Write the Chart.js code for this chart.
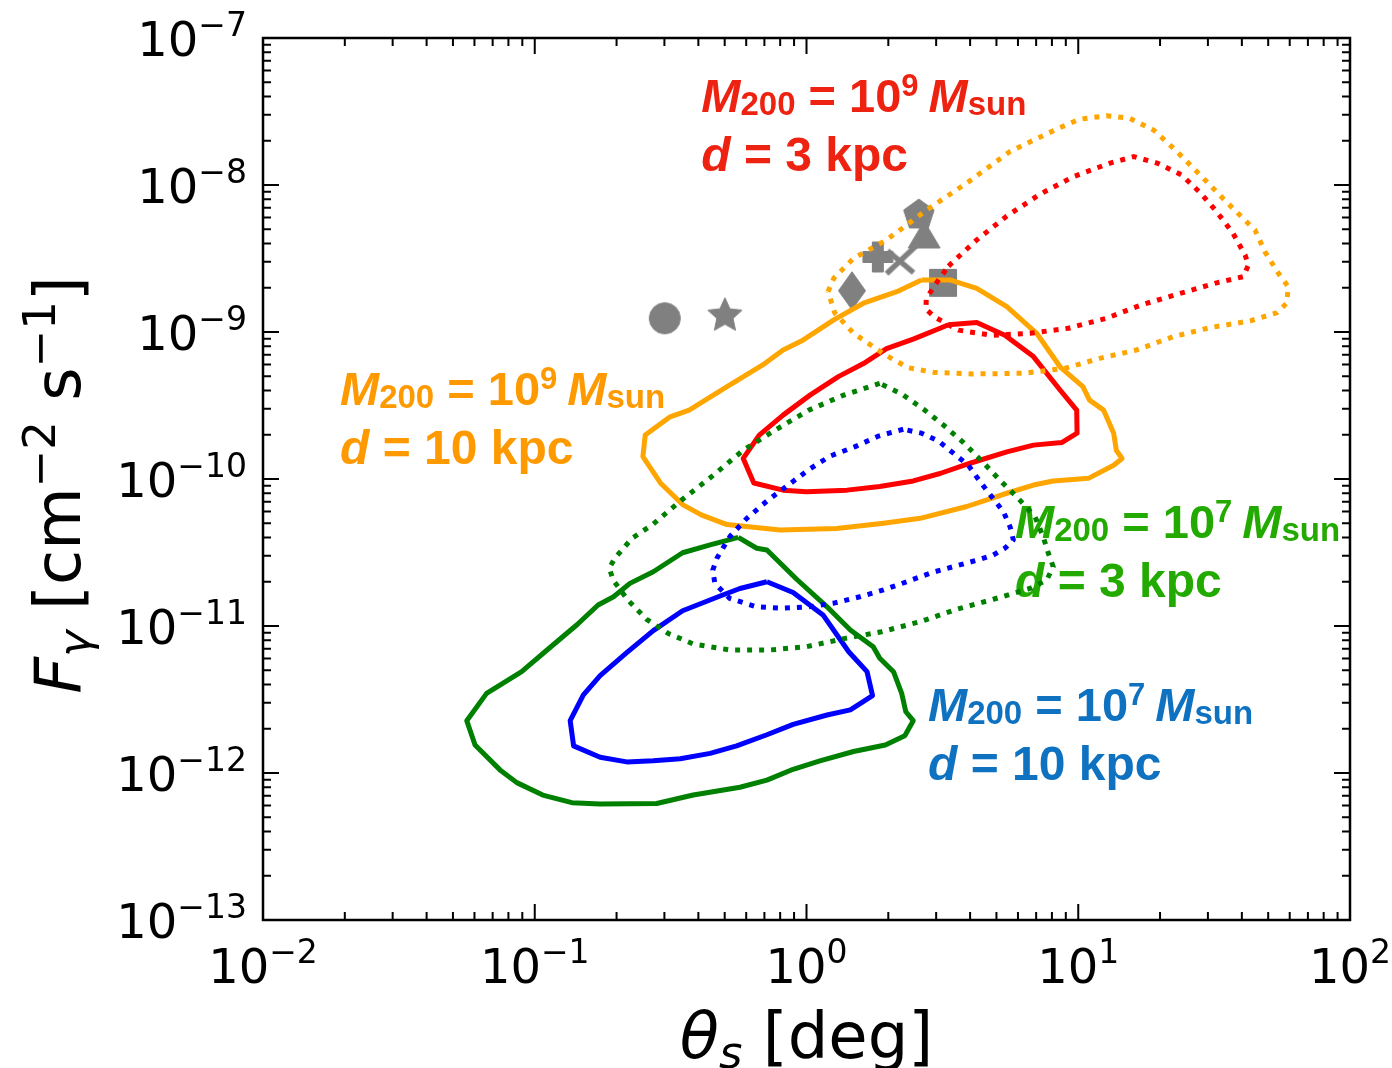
<!DOCTYPE html>
<html>
<head>
<meta charset="utf-8">
<script src="https://cdn.jsdelivr.net/npm/chart.js@4.4.0/dist/chart.umd.min.js"></script>
<style>
  html, body { margin: 0; padding: 0; background: #fff; }
  canvas { display: block; background: #fff; }
</style>
</head>
<body>
<canvas id="fluxChart" width="1392" height="1068"></canvas>
<script>
// contour outlines, [theta_s (deg), F_gamma (cm^-2 s^-1)]
const orangeSolid = [[2.65,2.26e-9],[3.37,2.26e-9],[4.23,1.98e-9],[5.46,1.49e-9],[7.03,9.8e-10],[8.57,5.8e-10],[10.4,4.25e-10],[11.0,3.44e-10],[12.4,2.94e-10],[13.5,2.05e-10],[13.8,1.57e-10],[14.5,1.38e-10],[13.5,1.24e-10],[10.9,1.01e-10],[8.09,9.7e-11],[6.84,9.1e-11],[5.46,8.0e-11],[3.89,6.5e-11],[2.62,5.4e-11],[1.92,5.0e-11],[1.29,4.6e-11],[0.80,4.5e-11],[0.51,4.9e-11],[0.41,5.7e-11],[0.35,6.7e-11],[0.29,9.4e-11],[0.25,1.42e-10],[0.255,1.99e-10],[0.315,2.65e-10],[0.37,2.94e-10],[0.51,4.25e-10],[0.69,5.97e-10],[0.82,7.55e-10],[0.97,8.8e-10],[1.26,1.21e-9],[1.62,1.57e-9],[2.15,1.88e-9],[2.65,2.26e-9]];
const redSolid = [[3.33,1.12e-9],[4.23,1.16e-9],[5.37,9.5e-10],[6.84,6.8e-10],[8.57,4.03e-10],[9.87,2.94e-10],[9.9,2.05e-10],[8.69,1.77e-10],[6.84,1.70e-10],[5.46,1.53e-10],[4.0,1.28e-10],[3.10,1.09e-10],[2.47,9.7e-11],[1.86,8.9e-11],[1.41,8.4e-11],[1.0,8.2e-11],[0.82,8.4e-11],[0.64,9.4e-11],[0.585,1.38e-10],[0.67,1.99e-10],[0.82,2.72e-10],[1.03,3.72e-10],[1.31,4.97e-10],[1.62,6.1e-10],[1.97,7.7e-10],[2.47,8.95e-10],[3.10,1.06e-9],[3.33,1.12e-9]];
const orangeDotted = [[1.20,1.88e-9],[1.26,2.32e-9],[1.49,3.17e-9],[1.97,4.23e-9],[2.77,6.76e-9],[3.94,1.05e-8],[5.61,1.69e-8],[8.33,2.40e-8],[10.1,2.80e-8],[12.7,2.96e-8],[15.5,2.84e-8],[18.9,2.37e-8],[22.4,1.78e-8],[28.1,1.17e-8],[35.2,7.62e-9],[44.7,4.94e-9],[48.6,3.52e-9],[54.5,2.51e-9],[59.3,2.03e-9],[58.5,1.57e-9],[53.7,1.35e-9],[42.9,1.19e-9],[30.5,1.07e-9],[22.4,9.3e-10],[16.4,7.55e-10],[12.0,6.62e-10],[8.93,5.66e-10],[6.28,5.24e-10],[4.06,5.18e-10],[2.93,5.32e-10],[2.37,5.71e-10],[1.95,6.98e-10],[1.49,9.8e-10],[1.27,1.35e-9],[1.20,1.88e-9]];
const redDotted = [[3.33,2.81e-9],[4.23,4.23e-9],[5.46,6.15e-9],[7.23,8.65e-9],[9.59,1.14e-8],[13.1,1.41e-8],[16.0,1.56e-8],[19.5,1.41e-8],[24.0,1.17e-8],[28.1,8.87e-9],[32.3,6.58e-9],[37.0,4.74e-9],[41.1,3.34e-9],[42.3,2.86e-9],[40.5,2.38e-9],[32.3,2.16e-9],[23.7,1.83e-9],[17.1,1.53e-9],[12.7,1.24e-9],[9.19,1.06e-9],[6.64,9.8e-10],[4.80,9.5e-10],[3.62,1.03e-9],[2.97,1.26e-9],[2.75,1.43e-9],[2.76,1.69e-9],[2.97,2.09e-9],[3.33,2.81e-9]];
const greenDotted = [[1.86,4.48e-10],[1.37,3.72e-10],[1.02,2.94e-10],[0.766,2.15e-10],[0.585,1.57e-10],[0.454,1.06e-10],[0.35,7.28e-11],[0.273,4.94e-11],[0.228,3.95e-11],[0.197,2.89e-11],[0.188,2.47e-11],[0.195,2.03e-11],[0.221,1.49e-11],[0.258,1.11e-11],[0.31,8.9e-12],[0.383,7.55e-12],[0.522,6.87e-12],[0.735,6.87e-12],[1.0,7.23e-12],[1.39,8.24e-12],[1.89,9.14e-12],[2.62,1.07e-11],[3.57,1.30e-11],[4.87,1.52e-11],[6.64,1.80e-11],[7.66,2.06e-11],[8.09,2.53e-11],[7.76,3.13e-11],[7.43,4.05e-11],[6.93,5.55e-11],[5.93,7.59e-11],[5.15,9.8e-11],[4.41,1.33e-10],[3.78,1.77e-10],[3.19,2.33e-10],[2.69,2.99e-10],[2.24,3.79e-10],[1.86,4.48e-10]];
const blueDotted = [[2.27,2.18e-10],[1.84,1.96e-10],[1.51,1.66e-10],[1.22,1.43e-10],[1.02,1.16e-10],[0.857,9.1e-11],[0.715,7.08e-11],[0.603,5.4e-11],[0.522,4.05e-11],[0.468,2.89e-11],[0.452,2.40e-11],[0.46,1.95e-11],[0.522,1.54e-11],[0.656,1.35e-11],[0.811,1.32e-11],[1.02,1.35e-11],[1.26,1.43e-11],[1.57,1.58e-11],[1.92,1.76e-11],[2.34,2.00e-11],[2.89,2.31e-11],[3.57,2.57e-11],[4.35,2.84e-11],[4.87,3.04e-11],[5.37,3.38e-11],[5.77,3.85e-11],[5.61,4.74e-11],[5.30,6.0e-11],[4.80,7.59e-11],[4.35,9.6e-11],[3.94,1.24e-10],[3.47,1.50e-10],[3.05,1.82e-10],[2.65,2.05e-10],[2.27,2.18e-10]];
const greenSolid = [[0.561,4.01e-11],[0.442,3.56e-11],[0.35,3.15e-11],[0.273,2.34e-11],[0.224,1.95e-11],[0.195,1.58e-11],[0.171,1.39e-11],[0.143,1.02e-11],[0.111,6.87e-12],[0.0895,4.89e-12],[0.0665,3.48e-12],[0.0562,2.27e-12],[0.0603,1.55e-12],[0.0745,1.05e-12],[0.0859,8.6e-13],[0.107,7.08e-13],[0.137,6.28e-13],[0.174,6.15e-13],[0.281,6.2e-13],[0.383,7.08e-13],[0.569,8.0e-13],[0.715,8.95e-13],[0.893,1.06e-12],[1.12,1.21e-12],[1.49,1.40e-12],[1.95,1.55e-12],[2.30,1.79e-12],[2.47,2.27e-12],[2.32,2.61e-12],[2.24,3.48e-12],[2.09,4.89e-12],[1.86,6.03e-12],[1.76,7.23e-12],[1.45,9.4e-12],[1.19,1.35e-11],[0.92,2.08e-11],[0.715,3.29e-11],[0.656,3.38e-11],[0.561,4.01e-11]];
const blueSolid = [[0.715,2.0e-11],[0.893,1.69e-11],[1.15,1.19e-11],[1.43,6.68e-12],[1.67,4.89e-12],[1.75,3.36e-12],[1.45,2.69e-12],[1.19,2.48e-12],[0.893,2.14e-12],[0.715,1.82e-12],[0.553,1.53e-12],[0.442,1.36e-12],[0.343,1.25e-12],[0.273,1.21e-12],[0.218,1.19e-12],[0.174,1.28e-12],[0.139,1.53e-12],[0.135,2.27e-12],[0.151,3.40e-12],[0.174,4.59e-12],[0.218,6.58e-12],[0.273,9.3e-12],[0.35,1.27e-11],[0.481,1.60e-11],[0.569,1.80e-11],[0.715,2.0e-11]];

// grey markers (observed objects)
const markerTheta = [0.301, 0.501, 1.47, 1.83, 2.20, 2.71, 2.59, 3.18];
const markerFlux = [1.24e-9, 1.29e-9, 1.91e-9, 3.24e-9, 3.01e-9, 4.43e-9, 6.25e-9, 2.16e-9];
const markerShapes = ['circle', 'star', 'thinDiamond', 'plus', 'x', 'triangle', 'pentagon', 'square'];

// text labels for each contour pair
const labelMassExp = ['9', '9', '7', '7'];
const labelDist = ['3', '10', '3', '10'];
const labelTheta = [0.41, 0.0192, 5.85, 2.80];
const labelFlux = [3.14e-8, 3.19e-10, 3.97e-11, 2.26e-12];
const labelColors = ['#EE2211', '#FF9900', '#22AA00', '#0F72C0'];

// axis ticks (decade exponents)
const xTickExp = [-2, -1, 0, 1, 2];
const yTickExp = [-13, -12, -11, -10, -9, -8, -7];

const markerColor = '#808080';

function makeMarker(shape) {
  const s = 60;
  const c = document.createElement('canvas');
  c.width = s; c.height = s;
  const g = c.getContext('2d');
  g.fillStyle = markerColor;
  g.strokeStyle = markerColor;
  g.lineJoin = 'round';
  g.translate(s / 2, s / 2);
  g.beginPath();
  if (shape === 'circle') {
    g.arc(0, 0, 15.5, 0, Math.PI * 2);
  } else if (shape === 'star') {
    for (let i = 0; i < 10; i++) {
      const r = i % 2 === 0 ? 18 : 8.5;
      const a = -Math.PI / 2 + i * Math.PI / 5;
      g.lineTo(r * Math.cos(a), r * Math.sin(a));
    }
  } else if (shape === 'thinDiamond') {
    g.moveTo(0, -19); g.lineTo(13.5, 0); g.lineTo(0, 19); g.lineTo(-13.5, 0);
  } else if (shape === 'plus') {
    const h = 15, t = 5.5;
    g.moveTo(-t, -h); g.lineTo(t, -h); g.lineTo(t, -t); g.lineTo(h, -t); g.lineTo(h, t);
    g.lineTo(t, t); g.lineTo(t, h); g.lineTo(-t, h); g.lineTo(-t, t); g.lineTo(-h, t);
    g.lineTo(-h, -t); g.lineTo(-t, -t);
  } else if (shape === 'x') {
    g.lineWidth = 5.5;
    g.moveTo(-13, 12); g.lineTo(22, -21);
    g.moveTo(-12, -11); g.lineTo(14, 11);
    g.stroke();
    return c;
  } else if (shape === 'triangle') {
    g.moveTo(0, -16); g.lineTo(16, 11); g.lineTo(-16, 11);
  } else if (shape === 'pentagon') {
    for (let i = 0; i < 5; i++) {
      const a = -Math.PI / 2 + i * 2 * Math.PI / 5;
      g.lineTo(16 * Math.cos(a), 16 * Math.sin(a));
    }
  } else {
    g.rect(-13.5, -13.5, 27, 27);
  }
  g.closePath();
  g.fill();
  g.lineWidth = 1;
  g.stroke();
  return c;
}

function contour(points, color, dotted) {
  return {
    data: points.map(p => ({x: p[0], y: p[1]})),
    showLine: true,
    borderColor: color,
    borderWidth: 5,
    borderDash: dotted ? [5, 7] : [],
    borderJoinStyle: 'round',
    pointRadius: 0,
    pointHoverRadius: 0,
    fill: false,
    order: 1,
  };
}

let datasets = [
  contour(orangeDotted, '#FFA500', true),
  contour(redDotted, '#FF0000', true),
  contour(greenDotted, '#008000', true),
  contour(blueDotted, '#0000FF', true),
  contour(orangeSolid, '#FFA500', false),
  contour(redSolid, '#FF0000', false),
  contour(greenSolid, '#008000', false),
  contour(blueSolid, '#0000FF', false),
];
for (let i = 0; i < markerTheta.length; i++) {
  datasets.push({
    data: [{x: markerTheta[i], y: markerFlux[i]}],
    pointStyle: makeMarker(markerShapes[i]),
    pointRadius: 10,
    pointHoverRadius: 10,
    order: 2,
  });
}

// draws a run of text pieces: [text, size, style, dy]
function textWidth(ctx, parts, family) {
  let w = 0;
  parts.forEach(p => {
    ctx.font = p[2] + ' ' + p[1] + 'px ' + family;
    w += ctx.measureText(p[0]).width;
  });
  return w;
}
function drawParts(ctx, parts, x, y, family) {
  let cx = x;
  parts.forEach(p => {
    ctx.font = p[2] + ' ' + p[1] + 'px ' + family;
    ctx.fillText(p[0], cx, y + p[3]);
    cx += ctx.measureText(p[0]).width;
  });
}

function expText(e) {
  return e < 0 ? '\u2212' + Math.abs(e) : String(e);
}

const sansFont = '"Liberation Sans", Arial, Helvetica, sans-serif';
const axisFont = '"DejaVu Sans", sans-serif';

const labelPlugin = {
  id: 'labelPlugin',
  beforeDatasetsDraw(chart) {
    const ctx = chart.ctx;
    const xs = chart.scales.x, ys = chart.scales.y;
    ctx.save();
    ctx.textBaseline = 'alphabetic';
    ctx.textAlign = 'left';
    for (let i = 0; i < labelTheta.length; i++) {
      const px = xs.getPixelForValue(labelTheta[i]);
      const py = ys.getPixelForValue(labelFlux[i]);
      ctx.fillStyle = labelColors[i];
      drawParts(ctx, [
        ['M', 47, 'italic bold', 0], ['200', 33, 'bold', 3], [' = 10', 47, 'bold', 0],
        [labelMassExp[i], 31, 'bold', -16], [' ', 36, 'bold', 0], ['M', 47, 'italic bold', 0],
        ['sun', 33, 'bold', 3]
      ], px, py, sansFont);
      drawParts(ctx, [
        ['d', 48, 'italic bold', 0], [' = ' + labelDist[i] + ' kpc', 48, 'bold', 0]
      ], px, py + 59, sansFont);
    }
    ctx.restore();
  },
  afterDraw(chart) {
    const ctx = chart.ctx;
    const a = chart.chartArea;
    const xs = chart.scales.x, ys = chart.scales.y;
    ctx.save();
    // inward ticks on all four sides
    ctx.strokeStyle = '#000';
    ctx.lineWidth = 2;
    ctx.beginPath();
    for (let e = xTickExp[0]; e < xTickExp[xTickExp.length - 1]; e++) {
      for (let k = 1; k <= 9; k++) {
        const px = xs.getPixelForValue(k * Math.pow(10, e));
        const len = k === 1 ? 16 : 8;
        ctx.moveTo(px, a.bottom); ctx.lineTo(px, a.bottom - len);
        ctx.moveTo(px, a.top); ctx.lineTo(px, a.top + len);
      }
    }
    for (let e = yTickExp[0]; e < yTickExp[yTickExp.length - 1]; e++) {
      for (let k = 1; k <= 9; k++) {
        const py = ys.getPixelForValue(k * Math.pow(10, e));
        const len = k === 1 ? 16 : 8;
        ctx.moveTo(a.left, py); ctx.lineTo(a.left + len, py);
        ctx.moveTo(a.right, py); ctx.lineTo(a.right - len, py);
      }
    }
    ctx.stroke();
    ctx.lineWidth = 2.5;
    ctx.strokeRect(a.left, a.top, a.right - a.left, a.bottom - a.top);

    // tick labels
    ctx.fillStyle = '#000';
    ctx.textAlign = 'left';
    ctx.textBaseline = 'alphabetic';
    xTickExp.forEach(e => {
      const parts = [['10', 48, 'normal', 0], [expText(e), 33, 'normal', -20]];
      const w = textWidth(ctx, parts, axisFont);
      const px = xs.getPixelForValue(Math.pow(10, e));
      drawParts(ctx, parts, px - w / 2, a.bottom + 63, axisFont);
    });
    yTickExp.forEach(e => {
      const parts = [['10', 48, 'normal', 0], [expText(e), 33, 'normal', -20]];
      const w = textWidth(ctx, parts, axisFont);
      const py = ys.getPixelForValue(Math.pow(10, e));
      drawParts(ctx, parts, a.left - 16 - w, py + 17.5, axisFont);
    });

    // axis titles
    const xt = [['\u03B8', 64, 'italic', 0], ['s', 45, 'italic', 10], [' [deg]', 64, 'normal', 0]];
    const xw = textWidth(ctx, xt, axisFont);
    drawParts(ctx, xt, (a.left + a.right) / 2 - xw / 2, 1058, axisFont);

    const yt = [['F', 64, 'italic', 0], ['\u03B3', 45, 'italic', 10], [' [cm', 64, 'normal', 0],
      ['\u22122', 45, 'normal', -25], [' s', 64, 'normal', 0], ['\u22121', 45, 'normal', -25], [']', 64, 'normal', 0]];
    const yw = textWidth(ctx, yt, axisFont);
    ctx.translate(80, (a.top + a.bottom) / 2 + 6);
    ctx.rotate(-Math.PI / 2);
    drawParts(ctx, yt, -yw / 2, 0, axisFont);
    ctx.restore();
  }
};

const ctx = document.getElementById('fluxChart').getContext('2d');
const fluxChart = new Chart(ctx, {
  type: 'scatter',
  data: { datasets: datasets },
  options: {
    responsive: false,
    animation: false,
    devicePixelRatio: 1,
    layout: { padding: { left: 263, top: 38, right: 42, bottom: 148 } },
    scales: {
      x: { type: 'logarithmic', min: 0.01, max: 100, display: false },
      y: { type: 'logarithmic', min: 1e-13, max: 1e-7, display: false },
    },
    plugins: {
      legend: { display: false },
      tooltip: { enabled: false },
    },
    elements: { line: { tension: 0 } },
  },
  plugins: [labelPlugin],
});
</script>
</body>
</html>
